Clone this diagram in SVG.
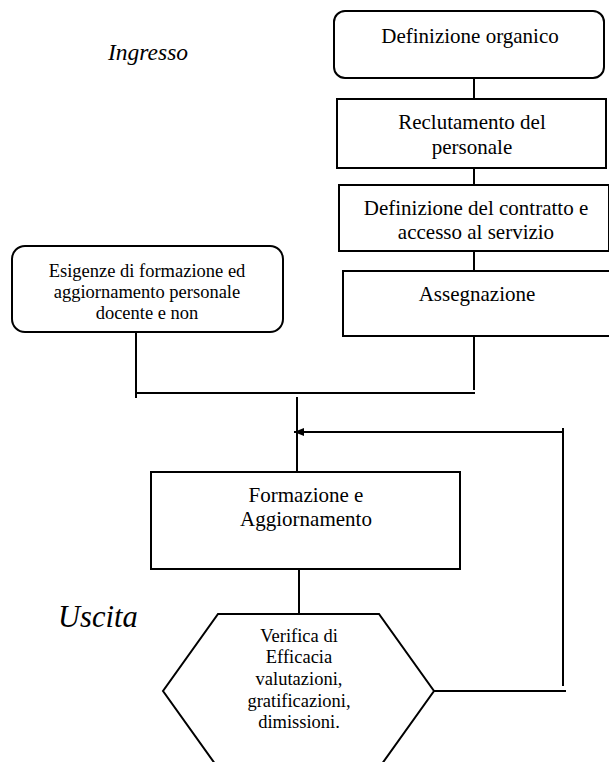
<svg xmlns="http://www.w3.org/2000/svg" width="609" height="762" viewBox="0 0 609 762">
  <style>
    .box { fill: #fff; stroke: #000; stroke-width: 2; }
    .wire { fill: none; stroke: #000; stroke-width: 2; }
    text { font-family: "Liberation Serif", "Times New Roman", serif; fill: #000; text-anchor: middle; }
    .t21 { font-size: 21px; }
    .t18 { font-size: 18.5px; }
    .label { font-style: italic; text-anchor: start; }
  </style>
  <defs>
    <marker id="arrow" viewBox="0 0 10 8" refX="10" refY="4" markerWidth="10" markerHeight="8" markerUnits="userSpaceOnUse" orient="auto">
      <path d="M0,0 L10,4 L0,8 z" fill="#000"/>
    </marker>
  </defs>

  <rect width="609" height="762" fill="#fff"/>

  <text class="label" x="108" y="60" style="font-size:23.5px">Ingresso</text>
  <text class="label" x="58" y="627" style="font-size:30.5px">Uscita</text>

  <!-- connectors -->
  <g id="connectors">
    <line class="wire" x1="474" y1="78" x2="474" y2="99"/>
    <line class="wire" x1="474" y1="168" x2="474" y2="185"/>
    <line class="wire" x1="474" y1="251" x2="474" y2="271"/>
    <line class="wire" x1="136" y1="332" x2="136" y2="398"/>
    <line class="wire" x1="474" y1="336" x2="474" y2="390"/>
    <line class="wire" x1="136" y1="393" x2="475" y2="393"/>
    <line class="wire" x1="297" y1="397" x2="297" y2="472"/>
    <line class="wire" x1="563" y1="432" x2="294" y2="432" marker-end="url(#arrow)"/>
    <line class="wire" x1="563" y1="428" x2="563" y2="686"/>
    <line class="wire" x1="434" y1="691" x2="566" y2="691"/>
    <line class="wire" x1="299" y1="569" x2="299" y2="614"/>
  </g>

  <g id="definizione-organico">
    <rect class="box" x="334" y="11" width="270" height="67" rx="11"/>
    <text class="t21" x="470" y="43">Definizione organico</text>
  </g>

  <g id="reclutamento">
    <rect class="box" x="337" y="99" width="269" height="69"/>
    <text class="t21" x="472" y="129">Reclutamento del</text>
    <text class="t21" x="472" y="154">personale</text>
  </g>

  <g id="contratto">
    <rect class="box" x="339" y="185" width="270" height="66"/>
    <text class="t21" x="476" y="215">Definizione del contratto e</text>
    <text class="t21" x="476" y="239">accesso al servizio</text>
  </g>

  <g id="assegnazione">
    <rect class="box" x="343" y="271" width="280" height="65"/>
    <text class="t21" x="477" y="301">Assegnazione</text>
  </g>

  <g id="esigenze">
    <rect class="box" x="12" y="246" width="271" height="86" rx="13"/>
    <text class="t18" x="147" y="277">Esigenze di formazione ed</text>
    <text class="t18" x="147" y="298">aggiornamento personale</text>
    <text class="t18" x="147" y="319">docente e non</text>
  </g>

  <g id="formazione">
    <rect class="box" x="151" y="472" width="309" height="97"/>
    <text class="t21" x="306" y="502">Formazione e</text>
    <text class="t21" x="306" y="526">Aggiornamento</text>
  </g>

  <g id="verifica">
    <polygon class="box" points="218,614 379,614 434,691 379,768 218,768 163,691"/>
    <text class="t18" x="299" y="642">Verifica di</text>
    <text class="t18" x="299" y="663">Efficacia</text>
    <text class="t18" x="299" y="685">valutazioni,</text>
    <text class="t18" x="299" y="707">gratificazioni,</text>
    <text class="t18" x="299" y="728">dimissioni.</text>
  </g>
</svg>
